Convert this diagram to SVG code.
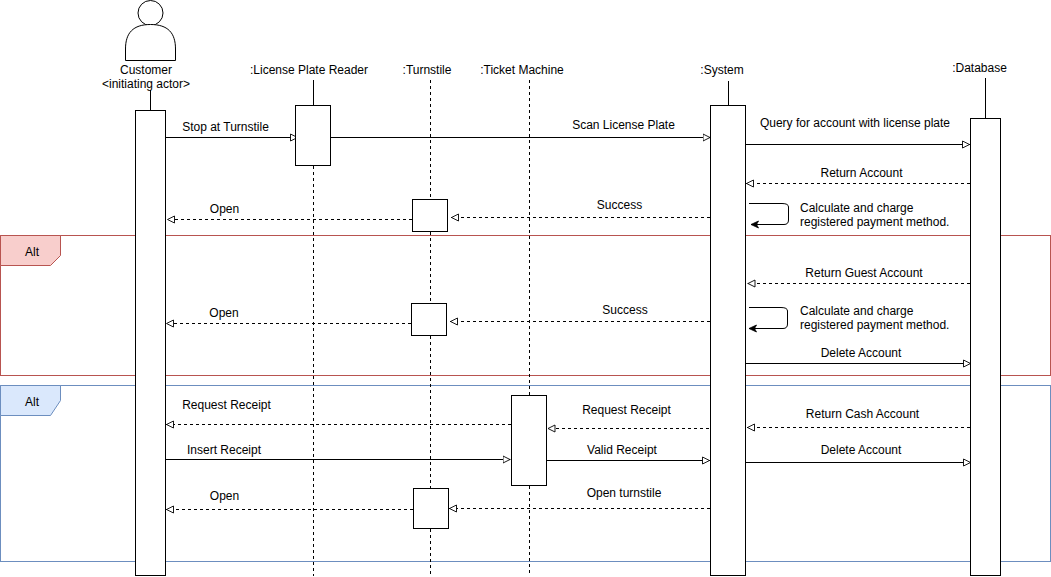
<svg xmlns="http://www.w3.org/2000/svg" width="1051" height="577" viewBox="0 0 1051 577">
<style>
text{font-family:"Liberation Sans",Arial,Helvetica,sans-serif;font-size:12px;fill:#000;text-anchor:middle}
.s{fill:#fff;stroke:#000;stroke-width:1}
.l{fill:none;stroke:#000;stroke-width:1}
.d{fill:none;stroke:#000;stroke-width:1;stroke-dasharray:3 3}
.a{fill:none;stroke:#000;stroke-width:1;marker-end:url(#o)}
.r{fill:none;stroke:#000;stroke-width:1;stroke-dasharray:3 3;marker-end:url(#o)}
.b{fill:none;stroke:#000;stroke-width:1;marker-end:url(#f)}
</style>
<defs>
<marker id="o" markerUnits="userSpaceOnUse" markerWidth="10" markerHeight="9" refX="8" refY="4.5" orient="auto"><path d="M0.500 1L7.500 4.500L0.500 8Z" fill="#fff" stroke="#000" stroke-width="0.9"/></marker>
<marker id="f" markerUnits="userSpaceOnUse" markerWidth="10" markerHeight="10" refX="8" refY="4.5" orient="auto"><path d="M0.500 1L8 4.500L0.500 8L2.500 4.500Z" fill="#000" stroke="#000" stroke-width="0.8"/></marker>
</defs>
<g id="frame-alt-1"><rect x="0.500" y="235.500" width="1050" height="140" fill="none" stroke="#b85450"/><path d="M0.500 235.500H60.500V255.500L50.500 265.500H0.500Z" fill="#f8cecc" stroke="#b85450"/><text x="32" y="256">Alt</text></g>
<g id="frame-alt-2"><rect x="0.500" y="385.500" width="1050" height="176" fill="none" stroke="#6c8ebf"/><path d="M0.500 385.500H60.500V400.500L50.500 415.500H0.500Z" fill="#dae8fc" stroke="#6c8ebf"/><text x="32" y="406">Alt</text></g>
<g id="connectors">
<path class="l" d="M150.500 90V110"/>
<path class="l" d="M313.500 80V105"/><path class="d" d="M313.500 166V576"/>
<path class="d" d="M430.500 80V199M430.500 232V303M430.500 336V488M430.500 529V576"/>
<path class="d" d="M529.500 80V395M529.500 486V576"/>
<path class="l" d="M728.500 81V105"/>
<path class="l" d="M985.500 78V118"/>
<path class="a" d="M165 137.500H298"/>
<path class="l" d="M331 137.500H560"/><path class="a" d="M560 137.500H710.500"/>
<path class="a" d="M746 144.500H970"/>
<path class="r" d="M970 183.500H746"/>
<path class="r" d="M710 217.500H451"/>
<path class="r" d="M412 219.500H167"/>
<path class="b" d="M749 203.500H782Q788.500 203.500 788.500 207V220Q788.500 224.500 784 224.500H751"/>
<path class="r" d="M970 283.500H747.500"/>
<path class="r" d="M710 321.500H450"/>
<path class="r" d="M411 323.500H166"/>
<path class="b" d="M749 307.500H781Q787.500 307.500 787.500 311V324Q787.500 328.500 783 328.500H749"/>
<path class="a" d="M746 363.500H971"/>
<path class="r" d="M511 424.500H166"/>
<path class="r" d="M709 428.500H547.500"/>
<path class="r" d="M970 427.500H747"/>
<path class="a" d="M165 459.500H510.500"/>
<path class="a" d="M546 460.500H710"/>
<path class="a" d="M746 462.500H971"/>
<path class="r" d="M413 509.500H166"/>
<path class="r" d="M710 508.500H449"/>
</g>
<g id="customer"><circle cx="150.500" cy="13" r="12.500" class="s"/><path class="s" d="M125.500 60.500V49C125.500 33 133 24.500 150.500 24.500C168 24.500 175.500 33 175.500 49V60.500Z"/><text x="146" y="74">Customer</text><text x="146" y="88">&lt;initiating actor&gt;</text><rect class="s" x="135.500" y="110.500" width="30" height="465"/></g>
<g id="license-plate-reader"><text x="309" y="74">:License Plate Reader</text><rect class="s" x="295.500" y="105.500" width="35" height="60"/></g>
<g id="turnstile"><text x="427" y="74">:Turnstile</text><rect class="s" x="412.500" y="199.500" width="35" height="32"/><rect class="s" x="411.500" y="303.500" width="35" height="32"/><rect class="s" x="413.500" y="488.500" width="35" height="40"/></g>
<g id="ticket-machine"><text x="522" y="74">:Ticket Machine</text><rect class="s" x="511.500" y="395.500" width="35" height="90"/></g>
<g id="system"><text x="722" y="74">:System</text><rect class="s" x="710.500" y="105.500" width="35" height="470"/></g>
<g id="database"><text x="979.500" y="72">:Database</text><rect class="s" x="970.500" y="118.500" width="30" height="457"/></g>
<g id="labels">
<text x="225.500" y="131">Stop at Turnstile</text>
<text x="623.500" y="129">Scan License Plate</text>
<text x="855" y="127">Query for account with license plate</text>
<text x="861.500" y="177">Return Account</text>
<text x="224.500" y="213">Open</text>
<text x="619.500" y="209">Success</text>
<text x="800" y="212" style="text-anchor:start">Calculate and charge</text>
<text x="800" y="226" style="text-anchor:start">registered payment method.</text>
<text x="864" y="277">Return Guest Account</text>
<text x="224" y="317">Open</text>
<text x="625" y="314">Success</text>
<text x="800" y="315" style="text-anchor:start">Calculate and charge</text>
<text x="800" y="329" style="text-anchor:start">registered payment method.</text>
<text x="861" y="357">Delete Account</text>
<text x="226.500" y="409">Request Receipt</text>
<text x="626.500" y="414">Request Receipt</text>
<text x="862.500" y="418">Return Cash Account</text>
<text x="224" y="454">Insert Receipt</text>
<text x="622" y="454">Valid Receipt</text>
<text x="861" y="454">Delete Account</text>
<text x="224.500" y="500">Open</text>
<text x="624" y="497">Open turnstile</text>
</g>
</svg>
